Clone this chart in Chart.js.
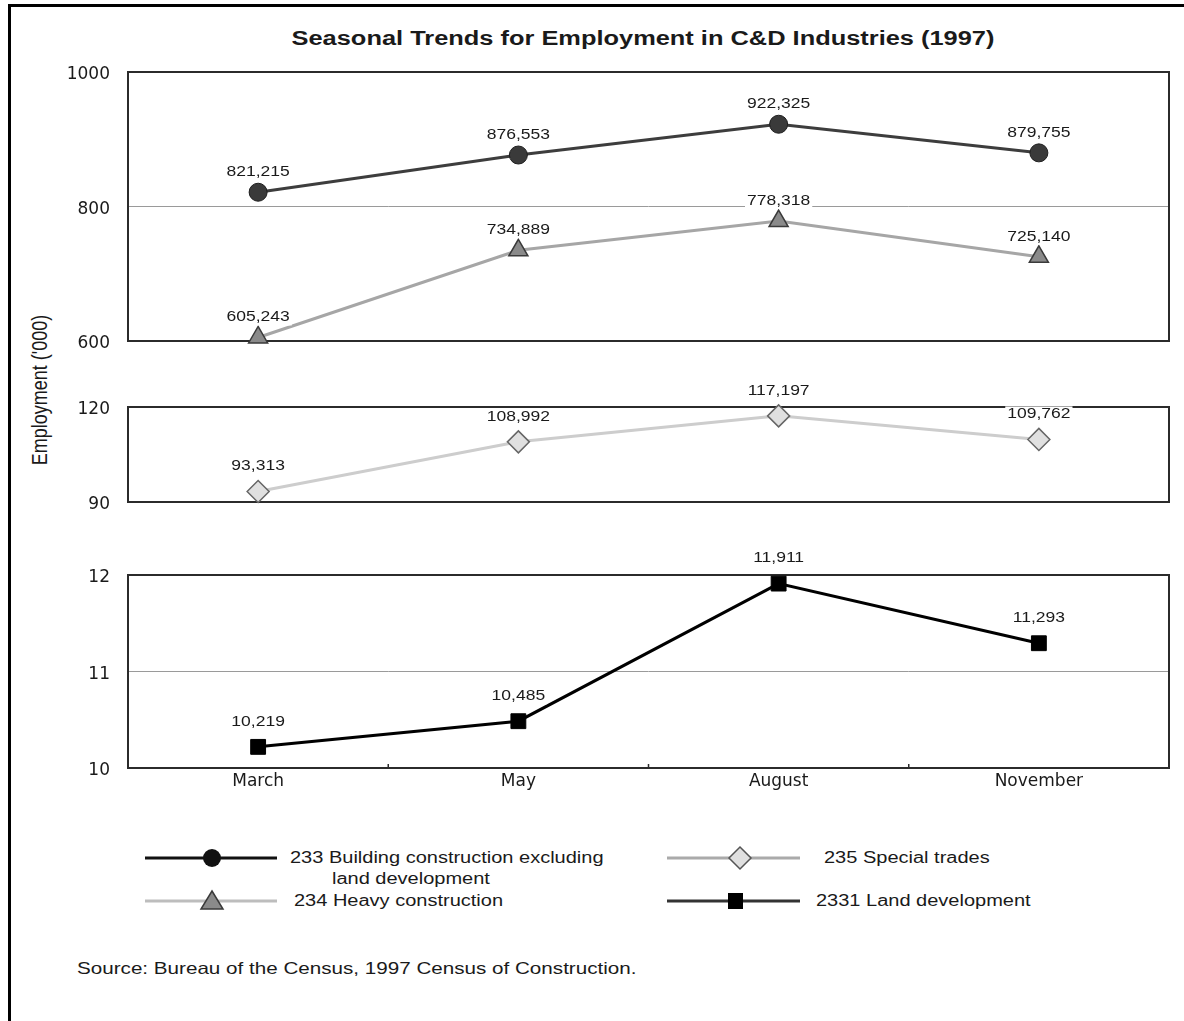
<!DOCTYPE html>
<html>
<head>
<meta charset="utf-8">
<title>Seasonal Trends for Employment in C&amp;D Industries (1997)</title>
<script src="https://cdn.jsdelivr.net/npm/chart.js@4.4.1/dist/chart.umd.min.js"></script>
<style>
    body { margin: 0; background: #fff; }
    #page { position: relative; width: 1184px; height: 1021px; overflow: hidden; font-family: 'Liberation Sans', Arial, sans-serif; color: #1a1a1a; }
    #frame { position: absolute; left: 8px; top: 4px; right: -10px; bottom: -10px; border-top: 3px solid #000; border-left: 3px solid #000; }
    .panel { position: absolute; left: 0; }
    .txt { position: absolute; white-space: nowrap; transform-origin: left center; transform: scaleX(1.25); font-size: 16px; line-height: 20px; }
    #title { position: absolute; left: 643px; top: 27px; white-space: nowrap; font-weight: bold; font-size: 20px; transform: translateX(-50%) scaleX(1.27); }
    #ylabel { position: absolute; left: 40px; top: 390px; white-space: nowrap; font-size: 18px; transform: translate(-50%, -50%) rotate(-90deg) scaleY(1.25); }
    .key { position: absolute; }
</style>
</head>
<body>
<div id="page">
    <div id="frame"></div>
    <div id="title">Seasonal Trends for Employment in C&amp;D Industries (1997)</div>
    <div id="ylabel">Employment ('000)</div>

    <canvas id="panelTop" class="panel" width="1184" height="309" style="top:52px"></canvas>
    <canvas id="panelMid" class="panel" width="1184" height="145" style="top:377px"></canvas>
    <canvas id="panelLow" class="panel" width="1184" height="255" style="top:545px"></canvas>

    <!-- Legend -->
    <svg class="key" style="left:140px;top:846px" width="145" height="24">
        <line x1="5" y1="12" x2="137" y2="12" stroke="#111" stroke-width="3"/>
        <circle cx="72" cy="12" r="9" fill="#111"/>
    </svg>
    <div class="txt" style="left:290px;top:848px">233 Building construction excluding</div>
    <div class="txt" style="left:332px;top:869px">land development</div>

    <svg class="key" style="left:140px;top:889px" width="145" height="24">
        <line x1="5" y1="12" x2="137" y2="12" stroke="#bdbdbd" stroke-width="3"/>
        <polygon points="72,2 83,20 61,20" fill="#8a8a8a" stroke="#3a3a3a" stroke-width="1.5"/>
    </svg>
    <div class="txt" style="left:294px;top:891px">234 Heavy construction</div>

    <svg class="key" style="left:662px;top:845px" width="145" height="26">
        <line x1="5" y1="13" x2="138" y2="13" stroke="#aaa" stroke-width="3"/>
        <polygon points="78,2 89,13 78,24 67,13" fill="#e0e0e0" stroke="#555" stroke-width="1.5"/>
    </svg>
    <div class="txt" style="left:824px;top:848px">235 Special trades</div>

    <svg class="key" style="left:662px;top:889px" width="145" height="24">
        <line x1="5" y1="12" x2="138" y2="12" stroke="#333" stroke-width="3"/>
        <rect x="66" y="4" width="15" height="16" fill="#000"/>
    </svg>
    <div class="txt" style="left:816px;top:891px">2331 Land development</div>

    <div class="txt" style="left:77px;top:958px;font-size:16.5px">Source: Bureau of the Census, 1997 Census of Construction.</div>
</div>

<script>
// Data (employment counts, plotted in thousands)
const months = ['March', 'May', 'August', 'November'];
const buildingEmp = [821215, 876553, 922325, 879755];   // 233
const heavyEmp = [605243, 734889, 778318, 725140];      // 234
const specialEmp = [93313, 108992, 117197, 109762];     // 235
const landEmp = [10219, 10485, 11911, 11293];           // 2331

const topTicks = [600, 800, 1000];
const midTicks = [90, 120];
const lowTicks = [10, 11, 12];

const toThousands = arr => arr.map(v => v / 1000);

// Box around each plot area + small ticks on the shared x axis
const panelFrame = {
    id: 'panelFrame',
    beforeDatasetsDraw(chart) {
        const a = chart.chartArea;
        const ctx = chart.ctx;
        ctx.save();
        ctx.strokeStyle = '#2b2b2b';
        ctx.lineWidth = 2;
        ctx.strokeRect(a.left, a.top, a.right - a.left, a.bottom - a.top);
        if (chart.options.scales.x.display) {
            const x = chart.scales.x;
            ctx.lineWidth = 1.5;
            for (let i = 1; i < months.length; i++) {
                const px = (x.getPixelForValue(i - 1) + x.getPixelForValue(i)) / 2;
                ctx.beginPath();
                ctx.moveTo(px, a.bottom);
                ctx.lineTo(px, a.bottom - 4);
                ctx.stroke();
            }
        }
        ctx.restore();
    }
};

// Value labels above points, on a white box
const valueLabels = {
    id: 'valueLabels',
    afterDatasetsDraw(chart) {
        const ctx = chart.ctx;
        ctx.save();
        ctx.font = '14px "Liberation Sans", Arial, sans-serif';
        ctx.textAlign = 'center';
        ctx.textBaseline = 'middle';
        chart.data.datasets.forEach((ds, i) => {
            const meta = chart.getDatasetMeta(i);
            meta.data.forEach((pt, j) => {
                const text = Math.round(ds.data[j] * 1000).toLocaleString('en-US');
                const y = pt.y - ds.labelOffset;
                const w = ctx.measureText(text).width * 1.25;
                ctx.fillStyle = '#fff';
                ctx.fillRect(pt.x - w / 2 - 2, y - 8, w + 4, 16);
                ctx.fillStyle = '#1a1a1a';
                ctx.save();
                ctx.translate(pt.x, y);
                ctx.scale(1.25, 1);
                ctx.fillText(text, 0, 0);
                ctx.restore();
            });
        });
        ctx.restore();
    }
};

function makePanel(id, datasets, ticks, showX, padTop, padBottom) {
    const lo = ticks[0];
    const hi = ticks[ticks.length - 1];
    return new Chart(document.getElementById(id), {
        type: 'line',
        data: { labels: months, datasets: datasets },
        options: {
            responsive: false,
            animation: false,
            layout: { autoPadding: false, padding: { top: padTop, bottom: padBottom, left: 0, right: 15 } },
            plugins: {
                legend: { display: false },
                tooltip: { enabled: false }
            },
            scales: {
                x: {
                    type: 'category',
                    display: showX,
                    offset: true,
                    grid: { display: false, drawTicks: false },
                    border: { display: false },
                    afterFit: scale => { if (showX) scale.height = 32; },
                    ticks: {
                        padding: 3,
                        color: '#1a1a1a',
                        font: { family: 'DejaVu Sans', size: 17 }
                    }
                },
                y: {
                    min: lo,
                    max: hi,
                    afterFit: scale => { scale.width = 128; },
                    afterBuildTicks: scale => { scale.ticks = ticks.map(v => ({ value: v })); },
                    border: { display: false },
                    grid: {
                        drawTicks: true,
                        tickLength: 16,
                        tickColor: 'rgba(0,0,0,0)',
                        lineWidth: 1,
                        color: c => (c.tick && (c.tick.value === lo || c.tick.value === hi)) ? 'rgba(0,0,0,0)' : '#9a9a9a'
                    },
                    ticks: {
                        padding: 2,
                        labelOffset: 3,
                        color: '#1a1a1a',
                        font: { family: 'DejaVu Sans', size: 17 },
                        callback: v => String(v)
                    }
                }
            }
        },
        plugins: [panelFrame, valueLabels]
    });
}

makePanel('panelTop', [
    {
        label: '233 Building construction excluding land development',
        data: toThousands(buildingEmp),
        borderColor: '#3d3d3d',
        borderWidth: 3,
        pointStyle: 'circle',
        pointRadius: 9,
        pointBackgroundColor: '#3a3a3a',
        pointBorderColor: '#1e1e1e',
        pointBorderWidth: 1,
        clip: false,
        labelOffset: 20
    },
    {
        label: '234 Heavy construction',
        data: toThousands(heavyEmp),
        borderColor: '#a6a6a6',
        borderWidth: 3,
        pointStyle: 'triangle',
        pointRadius: 11,
        pointBackgroundColor: '#8a8a8a',
        pointBorderColor: '#3a3a3a',
        pointBorderWidth: 1.5,
        clip: false,
        labelOffset: 20
    }
], topTicks, false, 20, 20);

makePanel('panelMid', [
    {
        label: '235 Special trades',
        data: toThousands(specialEmp),
        borderColor: '#cdcdcd',
        borderWidth: 3,
        pointStyle: 'rectRot',
        pointRadius: 11,
        pointBackgroundColor: '#e0e0e0',
        pointBorderColor: '#666',
        pointBorderWidth: 1.5,
        clip: false,
        labelOffset: 25
    }
], midTicks, false, 30, 20);

makePanel('panelLow', [
    {
        label: '2331 Land development',
        data: toThousands(landEmp),
        borderColor: '#000',
        borderWidth: 3,
        pointStyle: 'rect',
        pointRadius: 10.5,
        pointBackgroundColor: '#000',
        pointBorderColor: '#000',
        pointBorderWidth: 1,
        clip: false,
        labelOffset: 25
    }
], lowTicks, true, 30, 0);
</script>
</body>
</html>
